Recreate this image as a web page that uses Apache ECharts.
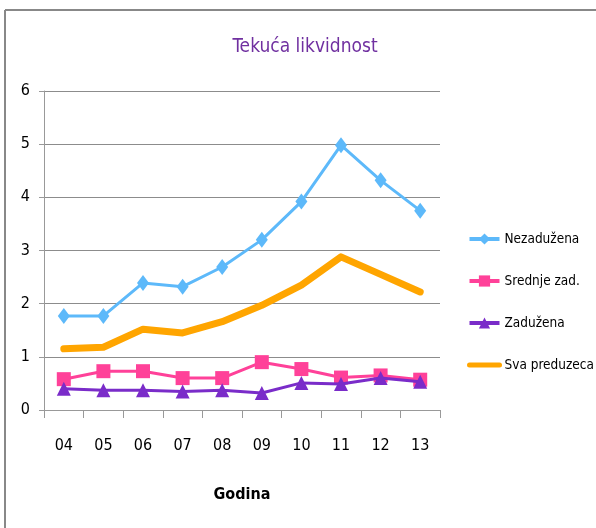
<!DOCTYPE html>
<html>
<head>
<meta charset="utf-8">
<script src="https://cdn.jsdelivr.net/npm/echarts@6/dist/echarts.min.js"></script>
<style>html,body{margin:0;padding:0;background:#fff}#c{width:596px;height:528px}</style>
</head>
<body>
<div id="c"></div>
<script>
var categories = ['04','05','06','07','08','09','10','11','12','13'];
var nezaduzena = [1.77,1.77,2.39,2.32,2.69,3.20,3.92,4.98,4.32,3.75];
var srednje = [0.58,0.73,0.73,0.60,0.60,0.90,0.77,0.61,0.65,0.57];
var zaduzena = [0.40,0.37,0.37,0.35,0.37,0.32,0.51,0.49,0.60,0.53];
var svaPreduzeca = [1.15,1.18,1.52,1.45,1.66,1.97,2.35,2.88,2.55,2.22];
var seriesNames = ['Nezadužena','Srednje zad.','Zadužena','Sva preduzeca'];
var yTicks = [0,1,2,3,4,5,6];

var FONT = '"DejaVu Sans Condensed", "Liberation Sans", Arial, sans-serif';
var chart = echarts.init(document.getElementById('c'));
chart.setOption({
  animation: false,
  title: {
    text: 'Tekuća likvidnost', left: 300, textAlign: 'center', top: 33,
    textStyle: {color: '#7030A0', fontSize: 19, fontWeight: 'normal', fontFamily: FONT}
  },
  graphic: [
    {type: 'line', shape: {x1: 5, y1: 10, x2: 596, y2: 10}, style: {stroke: '#888', lineWidth: 2}},
    {type: 'line', shape: {x1: 5, y1: 10, x2: 5, y2: 528}, style: {stroke: '#888', lineWidth: 2}}
  ],
  legend: {
    orient: 'vertical', left: 462, top: 227, itemGap: 28, itemWidth: 30, itemHeight: 14,
    lineStyle: {width: 4},
    textStyle: {fontSize: 13.5, fontFamily: FONT, color: '#000'},
    data: [seriesNames[0], seriesNames[1], seriesNames[2],
      {name: seriesNames[3], itemStyle: {opacity: 0}, lineStyle: {width: 5}}]
  },
  grid: {left: 44, right: 156, top: 91, bottom: 118},
  xAxis: {
    type: 'category', data: categories, boundaryGap: true,
    name: 'Godina', nameLocation: 'middle', nameGap: 77,
    nameTextStyle: {fontSize: 16, fontWeight: 'bold', fontFamily: FONT, color: '#000'},
    axisLine: {lineStyle: {color: '#999', width: 1}},
    axisTick: {show: true, length: 8, alignWithLabel: false, lineStyle: {color: '#999'}},
    axisLabel: {fontSize: 16, fontFamily: FONT, color: '#000', margin: 28}
  },
  yAxis: {
    type: 'value', min: 0, max: 6, interval: 1,
    axisLine: {show: true, lineStyle: {color: '#999', width: 1}},
    axisTick: {show: true, length: 5, lineStyle: {color: '#999'}},
    axisLabel: {fontSize: 16, fontFamily: FONT, color: '#000', margin: 14,
      formatter: function(v){ return yTicks.indexOf(v) >= 0 ? String(v) : ''; }},
    splitLine: {lineStyle: {color: '#8c8c8c', width: 1}}
  },
  series: [
    {name: seriesNames[0], type: 'line', data: nezaduzena, symbol: 'diamond', symbolSize: [12,16],
      lineStyle: {color: '#5DB9FA', width: 3}, itemStyle: {color: '#5DB9FA'}, z: 4},
    {name: seriesNames[1], type: 'line', data: srednje, symbol: 'rect', symbolSize: 14,
      lineStyle: {color: '#FF4199', width: 3}, itemStyle: {color: '#FF4199'}, z: 3},
    {name: seriesNames[2], type: 'line', data: zaduzena, symbol: 'triangle', symbolSize: 14,
      lineStyle: {color: '#7A2CC9', width: 3}, itemStyle: {color: '#7A2CC9'}, z: 5},
    {name: seriesNames[3], type: 'line', data: svaPreduzeca, symbol: 'none',
      lineStyle: {color: '#FFA500', width: 7, cap: 'round', join: 'round'}, itemStyle: {color: '#FFA500'}, z: 2}
  ]
});
</script>
</body>
</html>
